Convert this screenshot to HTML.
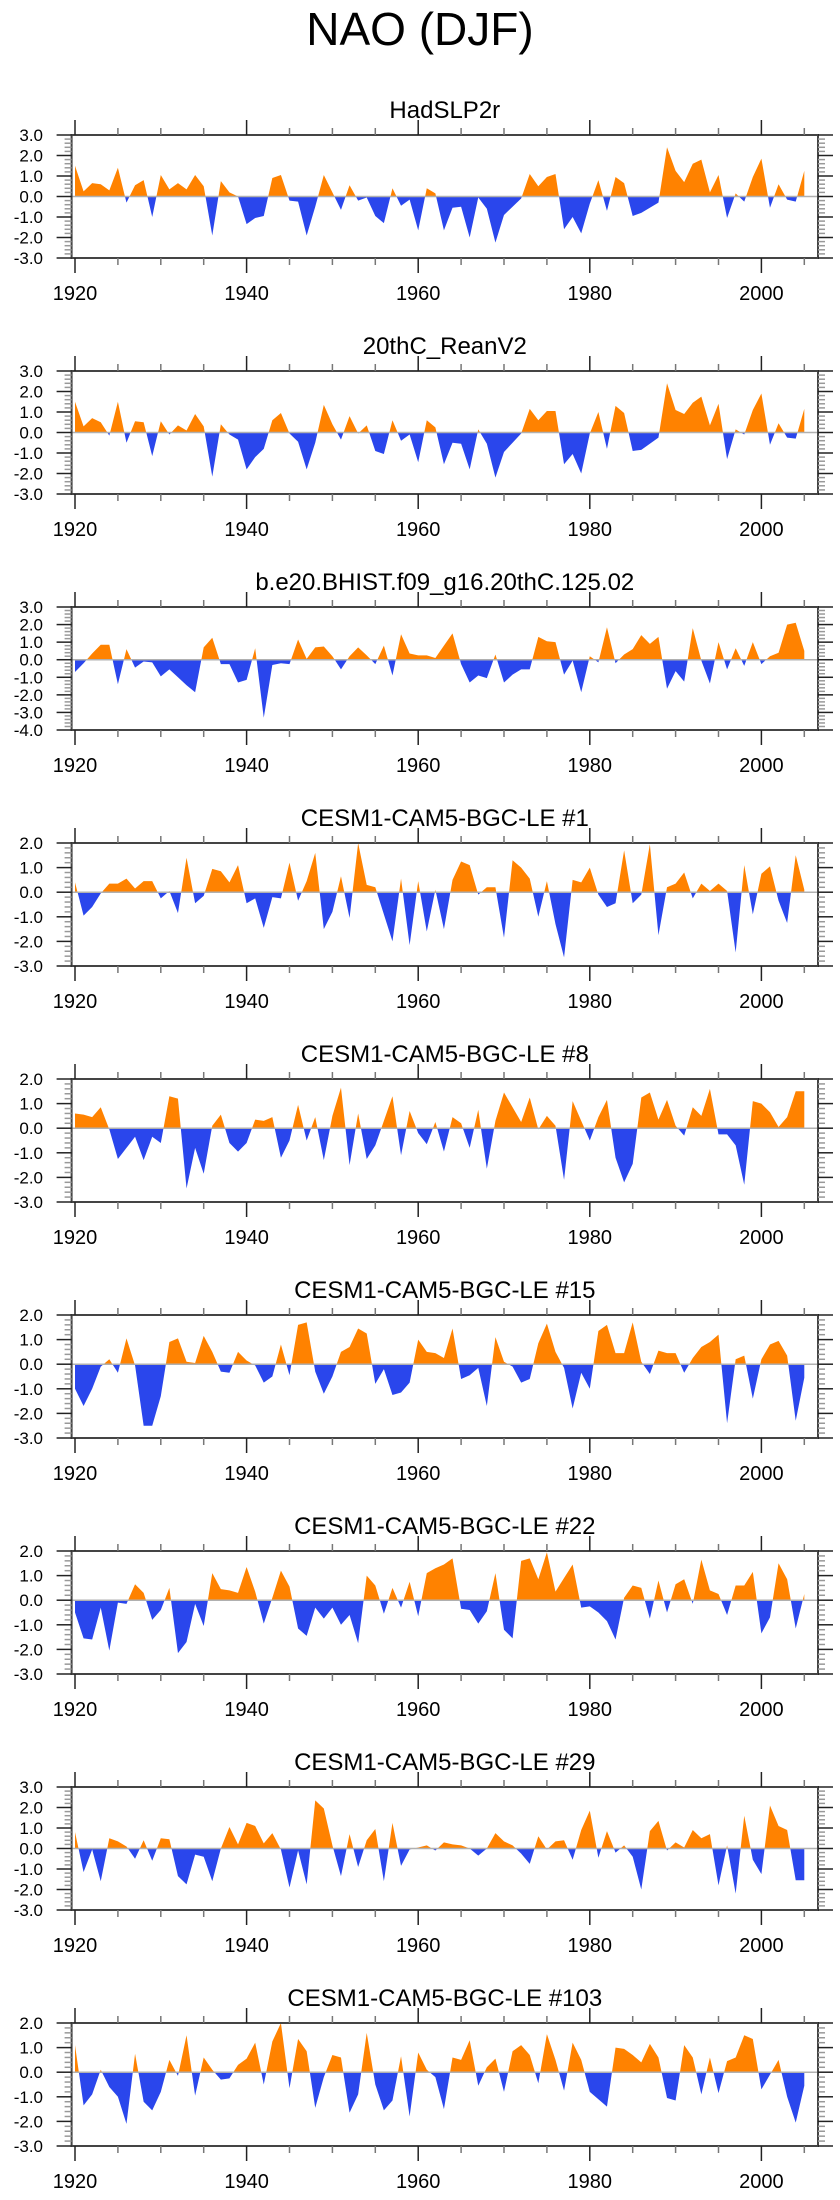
<!DOCTYPE html>
<html><head><meta charset="utf-8"><title>NAO (DJF)</title>
<style>
html,body{margin:0;padding:0;background:#fff;}
svg{display:block;font-family:"Liberation Sans",sans-serif;}
</style></head>
<body>
<svg id="chart" width="840" height="2200" viewBox="0 0 840 2200" xmlns="http://www.w3.org/2000/svg">
<text x="420" y="45" text-anchor="middle" font-size="46">NAO (DJF)</text>
</svg>
<script>
const years = Array.from({length:86},(_,i)=>1920+i);
const titles = ["HadSLP2r","20thC_ReanV2","b.e20.BHIST.f09_g16.20thC.125.02","CESM1-CAM5-BGC-LE #1","CESM1-CAM5-BGC-LE #8","CESM1-CAM5-BGC-LE #15","CESM1-CAM5-BGC-LE #22","CESM1-CAM5-BGC-LE #29","CESM1-CAM5-BGC-LE #103"];
const yMins = [-3,-3,-4,-3,-3,-3,-3,-3,-3];
const yMaxs = [3,3,3,2,2,2,2,3,2];
const xTickLabels = [1920,1940,1960,1980,2000];
const s1 = [1.5,0.25,0.65,0.6,0.3,1.4,-0.3,0.55,0.8,-1.0,1.05,0.35,0.65,0.35,1.05,0.5,-1.9,0.75,0.2,0.0,-1.35,-1.05,-0.95,0.9,1.05,-0.2,-0.25,-1.9,-0.5,1.05,0.2,-0.65,0.55,-0.2,-0.05,-0.95,-1.3,0.4,-0.45,-0.15,-1.65,0.4,0.15,-1.65,-0.55,-0.5,-2.0,-0.05,-0.6,-2.25,-0.9,-0.5,-0.1,1.1,0.5,0.95,1.1,-1.6,-1.0,-1.8,-0.35,0.8,-0.7,0.95,0.65,-0.95,-0.8,-0.55,-0.3,2.4,1.25,0.7,1.6,1.8,0.2,1.05,-1.05,0.15,-0.25,0.95,1.85,-0.55,0.6,-0.15,-0.25,1.25];
const s2 = [1.5,0.3,0.7,0.5,-0.15,1.5,-0.5,0.55,0.5,-1.15,0.55,-0.1,0.35,0.1,0.9,0.3,-2.15,0.4,-0.1,-0.35,-1.8,-1.2,-0.8,0.6,0.95,-0.05,-0.45,-1.8,-0.5,1.35,0.4,-0.35,0.8,-0.05,0.35,-0.9,-1.05,0.6,-0.4,-0.1,-1.45,0.6,0.25,-1.55,-0.5,-0.55,-1.8,0.15,-0.55,-2.2,-0.95,-0.5,-0.05,1.15,0.6,1.05,1.05,-1.55,-1.05,-2.0,-0.05,1.0,-0.8,1.3,0.95,-0.9,-0.85,-0.55,-0.25,2.4,1.1,0.9,1.45,1.75,0.35,1.4,-1.3,0.15,-0.1,1.1,1.9,-0.6,0.45,-0.25,-0.3,1.15];
const s3 = [-0.7,-0.2,0.35,0.85,0.85,-1.4,0.6,-0.45,-0.1,-0.15,-0.95,-0.55,-1.0,-1.45,-1.85,0.7,1.25,-0.25,-0.25,-1.3,-1.15,0.65,-3.3,-0.3,-0.2,-0.25,1.15,0.05,0.7,0.75,0.2,-0.55,0.2,0.7,0.25,-0.25,0.8,-0.9,1.45,0.35,0.25,0.25,0.1,0.8,1.5,-0.25,-1.3,-0.9,-1.05,0.3,-1.3,-0.85,-0.55,-0.55,1.3,1.05,1.0,-0.85,-0.05,-1.85,0.2,-0.15,1.85,-0.2,0.3,0.6,1.4,0.9,1.3,-1.65,-0.65,-1.25,1.8,-0.05,-1.35,1.0,-0.55,0.65,-0.35,1.0,-0.25,0.2,0.4,2.0,2.1,0.5];
const s4 = [0.4,-0.95,-0.6,-0.05,0.35,0.35,0.55,0.15,0.45,0.45,-0.25,0.05,-0.85,1.4,-0.45,-0.15,0.95,0.85,0.4,1.1,-0.45,-0.25,-1.45,-0.2,-0.25,1.2,-0.35,0.45,1.6,-1.5,-0.8,0.65,-1.05,2.0,0.3,0.2,-0.9,-2.0,0.55,-2.15,0.45,-1.6,0.1,-1.5,0.5,1.25,1.1,-0.1,0.2,0.2,-1.85,1.3,1.0,0.55,-1.0,0.45,-1.3,-2.65,0.5,0.4,1.0,-0.1,-0.6,-0.45,1.7,-0.45,-0.1,1.95,-1.75,0.2,0.35,0.8,-0.25,0.35,0.05,0.35,0.05,-2.45,1.1,-0.9,0.75,1.05,-0.35,-1.25,1.5,0.1];
const s5 = [0.6,0.55,0.45,0.85,-0.05,-1.25,-0.8,-0.35,-1.3,-0.35,-0.6,1.3,1.2,-2.45,-0.8,-1.85,0.1,0.55,-0.6,-0.95,-0.6,0.35,0.3,0.45,-1.2,-0.5,0.95,-0.5,0.45,-1.3,0.5,1.65,-1.5,0.6,-1.25,-0.7,0.3,1.3,-1.1,0.7,-0.2,-0.65,0.25,-0.95,0.45,0.2,-0.8,0.75,-1.65,0.3,1.45,0.85,0.25,1.25,-0.05,0.5,0.1,-2.1,1.1,0.3,-0.5,0.45,1.15,-1.2,-2.2,-1.45,1.25,1.45,0.35,1.15,0.1,-0.3,0.85,0.5,1.6,-0.25,-0.25,-0.7,-2.3,1.1,1.0,0.65,0.05,0.45,1.5,1.5];
const s6 = [-1.0,-1.7,-1.0,-0.1,0.2,-0.35,1.05,-0.05,-2.5,-2.5,-1.3,0.9,1.05,0.1,0.05,1.15,0.5,-0.3,-0.35,0.5,0.15,-0.05,-0.75,-0.5,0.8,-0.45,1.6,1.7,-0.3,-1.2,-0.5,0.5,0.7,1.45,1.25,-0.8,-0.2,-1.25,-1.15,-0.75,1.0,0.5,0.45,0.25,1.45,-0.6,-0.45,-0.15,-1.7,1.1,0.1,-0.1,-0.75,-0.6,0.85,1.65,0.5,-0.15,-1.8,-0.35,-1.0,1.35,1.6,0.45,0.45,1.7,0.1,-0.4,0.55,0.45,0.45,-0.35,0.25,0.7,0.9,1.2,-2.4,0.2,0.35,-1.4,0.2,0.8,0.95,0.35,-2.3,-0.55];
const s7 = [-0.5,-1.55,-1.6,-0.3,-2.05,-0.1,-0.15,0.65,0.3,-0.8,-0.4,0.5,-2.15,-1.7,-0.15,-1.05,1.1,0.45,0.4,0.3,1.35,0.35,-0.95,0.1,1.2,0.55,-1.15,-1.45,-0.3,-0.75,-0.3,-1.0,-0.6,-1.75,1.0,0.6,-0.55,0.5,-0.3,0.75,-0.65,1.1,1.3,1.45,1.7,-0.35,-0.4,-0.95,-0.45,1.1,-1.2,-1.55,1.6,1.7,0.85,1.95,0.35,0.9,1.45,-0.3,-0.25,-0.5,-0.85,-1.6,0.1,0.6,0.5,-0.75,0.8,-0.5,0.65,0.85,-0.15,1.65,0.4,0.25,-0.6,0.6,0.6,1.15,-1.35,-0.7,1.5,0.85,-1.15,0.25];
const s8 = [0.8,-1.15,-0.05,-1.6,0.5,0.35,0.1,-0.5,0.4,-0.6,0.5,0.45,-1.35,-1.75,-0.3,-0.4,-1.6,0.0,1.05,0.2,1.25,1.1,0.25,0.75,-0.05,-1.9,-0.1,-1.75,2.35,1.95,0.15,-1.35,0.7,-0.9,0.4,0.95,-1.6,1.25,-0.85,-0.05,0.05,0.15,-0.1,0.3,0.2,0.15,0.0,-0.35,0.0,0.75,0.35,0.15,-0.25,-0.75,0.6,-0.05,0.35,0.4,-0.55,0.9,1.85,-0.45,0.85,-0.2,0.15,-0.4,-2.0,0.85,1.35,-0.1,0.3,0.05,0.9,0.5,0.7,-1.8,0.15,-2.2,1.6,-0.55,-1.25,2.1,1.1,0.9,-1.55,-1.55];
const s9 = [1.1,-1.35,-0.9,0.1,-0.6,-1.0,-2.1,0.75,-1.2,-1.55,-0.8,0.5,-0.15,1.5,-0.95,0.6,0.1,-0.3,-0.25,0.3,0.55,1.2,-0.5,1.25,2.0,-0.65,1.35,0.85,-1.45,-0.2,0.7,0.6,-1.65,-0.9,1.6,-0.5,-1.55,-1.15,0.65,-1.8,0.8,0.1,-0.2,-1.5,0.6,0.5,1.3,-0.55,0.2,0.55,-0.8,0.85,1.1,0.7,-0.45,1.55,0.5,-0.75,1.2,0.5,-0.8,-1.1,-1.4,1.0,0.95,0.7,0.4,1.15,0.6,-1.05,-1.15,1.1,0.6,-0.9,0.6,-0.85,0.45,0.6,1.5,1.35,-0.7,-0.1,0.5,-1.0,-2.05,-0.55];
const series = [s1,s2,s3,s4,s5,s6,s7,s8,s9];

const NS = "http://www.w3.org/2000/svg";
const svg = document.getElementById('chart');
const L = 71.6, R = 818, H = 123, X0 = 75, DX = 8.58;
function xs(yr){ return X0 + (yr-1920)*DX; }
function mk(tag, attrs, parent){ const e=document.createElementNS(NS,tag); for(const k in attrs) e.setAttribute(k,attrs[k]); parent.appendChild(e); return e; }

series.forEach((vals, p) => {
  const top = 135 + 236*p, bot = top + H;
  const ymin = yMins[p], ymax = yMaxs[p];
  const ys = v => top + (ymax - v) / (ymax - ymin) * H;
  const g = mk('g', {}, svg);
  
  

  const t = mk('text', {x: (L+R)/2, y: top-17, 'text-anchor':'middle', 'font-size':24}, g);
  t.textContent = titles[p];
  
  

  const y0 = ys(0);
  const cid = 'c' + p;
  const defs = mk('defs', {}, g);
  const c1 = mk('clipPath', {id: cid+'a'}, defs); mk('rect', {x:L, y:top, width:R-L, height:y0-top}, c1);
  const c2 = mk('clipPath', {id: cid+'b'}, defs); mk('rect', {x:L, y:y0, width:R-L, height:bot-y0}, c2);
  let d = 'M' + xs(years[0]) + ',' + y0;
  vals.forEach((v,i) => { d += ' L' + xs(years[i]).toFixed(2) + ',' + ys(v).toFixed(2); });
  d += ' L' + xs(years[vals.length-1]) + ',' + y0 + ' Z';
  const pos = mk('path', {d: d, fill:'#ff8200', 'clip-path':'url(#'+cid+'a)'}, g);
  
  
  const neg = mk('path', {d: d, fill:'#2a46ec', 'clip-path':'url(#'+cid+'b)'}, g);
  
  

  const zl = mk('line', {x1:L, x2:R, y1:y0, y2:y0, stroke:'#b0b0b0', 'stroke-width':1.5}, g);
  
  

  const fr = mk('rect', {x:L, y:top, width:R-L, height:H, fill:'none', stroke:'#444', 'stroke-width':2}, g);
  
  

  // x ticks
  for (let yr = 1920; yr <= 2005; yr += 5) {
    const major = yr % 20 === 0;
    const len = major ? 15 : 7;
    const x = xs(yr);
    mk('line', {x1:x, x2:x, y1:top, y2:top-len, stroke: major?'#222':'#777', 'stroke-width':1.5}, g);
    mk('line', {x1:x, x2:x, y1:bot, y2:bot+len, stroke: major?'#222':'#777', 'stroke-width':1.5}, g);
  }
  xTickLabels.forEach(yr => {
    const tl = mk('text', {x: xs(yr), y: bot+42, 'text-anchor':'middle', 'font-size':20}, g);
    tl.textContent = yr;
    
    
  });
  // y ticks
  for (let k = ymin*5; k <= ymax*5; k++) {
    const v = k/5, y = ys(v);
    const major = k % 5 === 0;
    const len = major ? 15 : 7;
    mk('line', {x1:L, x2:L-len, y1:y, y2:y, stroke: major?'#222':'#999', 'stroke-width':1.5}, g);
    mk('line', {x1:R, x2:R+len, y1:y, y2:y, stroke: major?'#222':'#999', 'stroke-width':1.5}, g);
    if (major) {
      const yl = mk('text', {x: 43, y: y+6, 'text-anchor':'end', 'font-size':17}, g);
      yl.textContent = v.toFixed(1);
      
      
    }
  }
});
</script>
</body></html>
